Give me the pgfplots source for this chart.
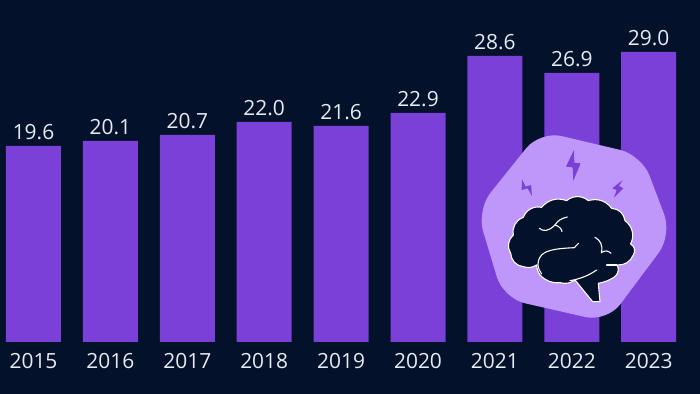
\documentclass[border=0pt]{standalone}
\usepackage{fontspec}
\setmainfont{Open Sans}
\usepackage{pgfplots}
\pgfplotsset{compat=1.18}
\definecolor{bg}{HTML}{03122A}
\definecolor{barc}{HTML}{7A40D8}
\definecolor{badge}{HTML}{BF97FB}
\definecolor{txt}{HTML}{E6ECF4}
\begin{document}
\begin{tikzpicture}[x=1bp,y=1bp]
\fill[bg] (0,0) rectangle (700,394);
\begin{axis}[
  at={(0bp,0bp)}, anchor=south west,
  scale only axis, width=700bp, height=394bp,
  xmin=-0.4356, xmax=8.667, ymin=-5.2, ymax=34.2,
  axis line style={draw=none},
  major tick length=0pt, ytick=\empty,
  xtick={0,1,2,3,4,5,6,7,8},
  xticklabels={2015,2016,2017,2018,2019,2020,2021,2022,2023},
  xtick pos=bottom,
  xtick style={draw=none},
  axis y line=none,
  x axis line style={draw=none},
  x tick label style={font=\fontsize{21}{24}\selectfont, text=txt, anchor=base, yshift=25.5bp},
  clip=false,
]
\addplot[ybar, bar width=55bp, fill=barc, draw=none,
  nodes near coords={\pgfmathprintnumber[fixed,fixed zerofill,precision=1,assume math mode=true]{\pgfplotspointmeta}},
  every node near coord/.append style={font=\fontsize{21}{24}\selectfont, text=txt, anchor=south, inner sep=6bp},
] coordinates {
 (0,19.6) (1,20.1) (2,20.7) (3,22.0) (4,21.6) (5,22.9) (6,28.6) (7,26.9) (8,29.0)
};
\end{axis}
\fill[badge, rounded corners=22bp] (540,263) -- (641.7,239) -- (672,159) -- (607,72) -- (503.3,95.7) -- (476.7,184) -- cycle;
\begin{scope}[shift={(460,274)}, x=0.3333bp, y=-0.3333bp]
\fill[barc] (342,90) -- (318,140) -- (338,142) -- (340,182) -- (362,130) -- (343,128) -- cycle;
\fill[barc] (186,178) -- (185,210) -- (203,205) -- (216,228) -- (213,195) -- (197,200) -- cycle;
\fill[barc] (488,180) -- (457,205) -- (470,210) -- (462,233) -- (490,205) -- (477,198) -- cycle;
\draw[white, fill=bg, line width=1.1bp, line join=round]
  (152,400) to[bend left=40] (160,345) to[bend left=40] (190,292) to[bend left=40] (245,262)
  to[bend left=35] (320,242) to[bend left=40] (385,242) to[bend left=35] (455,265)
  to[bend left=40] (495,302) to[bend left=40] (512,372) to[bend left=50] (520,405)
  to[bend left=35] (472,435) to[bend left=40] (462,472) to[bend left=10] (415,490)
  -- (420,545) -- (398,545) -- (345,480) to[bend left=25] (300,488)
  to[bend left=25] (240,465) to[bend left=15] (230,435) to[bend left=25] (190,440)
  to[bend left=40] (152,400) -- cycle;
\draw[white, line width=1.1bp, line cap=round]
  (345,383) .. controls (300,385) and (262,388) .. (245,405) .. controls (228,425) and (232,445) .. (245,462);
\draw[white, line width=1.1bp, line cap=round] (330,482) .. controls (355,478) and (385,468) .. (410,450);
\draw[white, line width=1.1bp, line cap=round] (238,325) .. controls (250,335) and (265,335) .. (285,315) .. controls (295,300) and (305,295) .. (322,291);
\draw[white, line width=1.1bp, line cap=round] (285,315) .. controls (295,318) and (305,325) .. (306,335);
\draw[white, line width=1.1bp, line cap=round] (405,352) .. controls (420,360) and (430,375) .. (424,398);
\draw[white, line width=1.1bp, line cap=round] (424,398) .. controls (435,390) and (445,392) .. (453,400);
\draw[white, line width=1.1bp, line cap=round] (345,381) -- (356,370);
\draw[white, line width=1.1bp, line cap=round] (440,435) -- (470,435);
\end{scope}
\end{tikzpicture}
\end{document}
